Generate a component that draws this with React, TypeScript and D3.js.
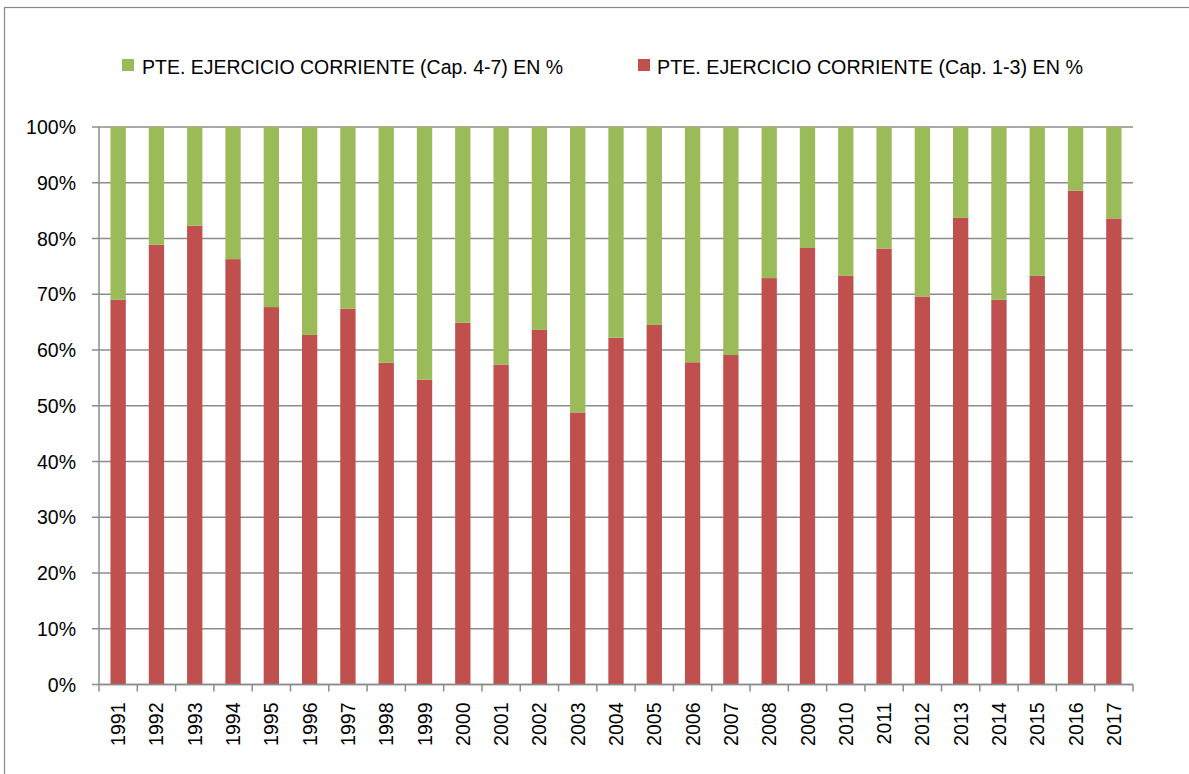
import React from "react";
import * as d3 from "d3";

// Reparto del pendiente del ejercicio corriente por capítulos (en %)
const YEARS = [
  "1991", "1992", "1993", "1994", "1995", "1996", "1997", "1998", "1999",
  "2000", "2001", "2002", "2003", "2004", "2005", "2006", "2007", "2008",
  "2009", "2010", "2011", "2012", "2013", "2014", "2015", "2016", "2017",
];
// Cap. 1-3 (rojo, abajo)
const CAP_1_3 = [
  69.0, 78.9, 82.3, 76.3, 67.7, 62.7, 67.4, 57.7, 54.7,
  64.9, 57.4, 63.6, 48.8, 62.2, 64.5, 57.8, 59.1, 72.9,
  78.3, 73.3, 78.2, 69.6, 83.7, 69.0, 73.3, 88.6, 83.6,
];
// Cap. 4-7 (verde, arriba)
const CAP_4_7 = [
  31.0, 21.1, 17.7, 23.7, 32.3, 37.3, 32.6, 42.3, 45.3,
  35.1, 42.6, 36.4, 51.2, 37.8, 35.5, 42.2, 40.9, 27.1,
  21.7, 26.7, 21.8, 30.4, 16.3, 31.0, 26.7, 11.4, 16.4,
];
const Y_TICKS = [0, 10, 20, 30, 40, 50, 60, 70, 80, 90, 100];

const LEGEND = [
  { label: "PTE. EJERCICIO CORRIENTE (Cap. 4-7) EN %", color: "#9BBB59" },
  { label: "PTE. EJERCICIO CORRIENTE (Cap. 1-3) EN %", color: "#C0504D" },
];

const W = 1189;
const H = 774;
const M = { top: 127, right: 56, bottom: 89.5, left: 99 };
const GRID = "#8C8C8C";
const FONT = "'Liberation Sans', Arial, sans-serif";

export default function App() {
  const iW = W - M.left - M.right;
  const iH = H - M.top - M.bottom;

  const x = d3.scaleBand<string>().domain(YEARS).range([0, iW]).padding(0);
  const y = d3.scaleLinear().domain([0, 100]).range([iH, 0]);
  const barW = x.bandwidth() * 0.4;

  const rows = YEARS.map((yr, i) => ({ yr, low: CAP_1_3[i], high: CAP_4_7[i] }));
  const stack = d3.stack<(typeof rows)[number]>().keys(["low", "high"] as any)
    .value((d, k) => (d as any)[k]);
  const layers = stack(rows);
  const colors = [LEGEND[1].color, LEGEND[0].color];

  return (
    <svg
      width={W}
      height={H}
      style={{ position: "absolute", left: 0, top: 0, background: "#fff" }}
    >
      {/* marco del gráfico */}
      <rect x={4.5} y={7.5} width={W + 20} height={H + 20} fill="none" stroke="#898989" strokeWidth={1.2} />

      {/* leyenda */}
      <rect x={122} y={59} width={12} height={12} fill={LEGEND[0].color} />
      <text x={142} y={73.5} fontFamily="'Liberation Sans Narrow', 'Liberation Sans', sans-serif"
        fontSize={20.5} textLength={421} lengthAdjust="spacingAndGlyphs" fill="#000">
        {LEGEND[0].label}
      </text>
      <rect x={638} y={59} width={12} height={12} fill={LEGEND[1].color} />
      <text x={657} y={73.5} fontFamily="'Liberation Sans Narrow', 'Liberation Sans', sans-serif"
        fontSize={20.5} textLength={426} lengthAdjust="spacingAndGlyphs" fill="#000">
        {LEGEND[1].label}
      </text>

      <g transform={`translate(${M.left},${M.top})`}>
        {/* rejilla y eje Y */}
        {Y_TICKS.map((t) => (
          <g key={t}>
            <line x1={-7} x2={iW} y1={y(t)} y2={y(t)} stroke={GRID} strokeWidth={1.5} />
            <text x={-23} y={y(t)} dy="0.36em" textAnchor="end" fontFamily={FONT} fontSize={19.5} fill="#000">
              {t}%
            </text>
          </g>
        ))}

        {/* barras apiladas */}
        {layers.map((layer, li) => (
          <g key={li} fill={colors[li]}>
            {layer.map((d, i) => (
              <rect
                key={i}
                x={(x(YEARS[i]) ?? 0) + (x.bandwidth() - barW) / 2}
                y={y(d[1])}
                width={barW}
                height={y(d[0]) - y(d[1])}
              />
            ))}
          </g>
        ))}

        {/* eje X */}
        <line x1={0} x2={0} y1={0} y2={iH} stroke={GRID} strokeWidth={1.5} />
        <line x1={0} x2={iW} y1={iH} y2={iH} stroke={GRID} strokeWidth={1.5} />
        {[...YEARS.map((yr) => x(yr) ?? 0), iW].map((px, i) => (
          <line key={i} x1={px} x2={px} y1={iH} y2={iH + 7} stroke={GRID} strokeWidth={1.5} />
        ))}
        {YEARS.map((yr) => {
          const cx = (x(yr) ?? 0) + x.bandwidth() / 2;
          return (
            <text
              key={yr}
              transform={`translate(${cx},${iH + 18}) rotate(-90)`}
              dy="0.36em"
              textAnchor="end"
              fontFamily={FONT}
              fontSize={19.5}
              fill="#000"
            >
              {yr}
            </text>
          );
        })}
      </g>
    </svg>
  );
}
